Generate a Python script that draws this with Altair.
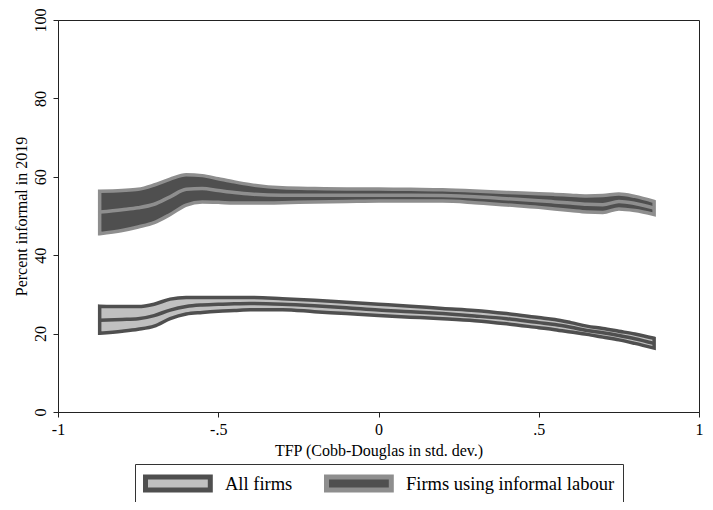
import altair as alt
import pandas as pd

# ---- data ----
x_vals = [-0.87, -0.8, -0.75, -0.7, -0.65, -0.6, -0.55, -0.5, -0.45, -0.4, -0.3, -0.2, -0.1,
          0.0, 0.1, 0.2, 0.3, 0.4, 0.5, 0.55, 0.6, 0.65, 0.7, 0.75, 0.8, 0.86]

informal_hi = [56.3, 56.5, 56.8, 57.9, 59.4, 60.5, 60.3, 59.5, 58.7, 58.0, 57.2, 57.0, 56.9,
               56.9, 56.8, 56.7, 56.4, 56.0, 55.7, 55.5, 55.3, 55.1, 55.2, 55.6, 55.0, 53.7]
informal_mid = [51.0, 51.6, 52.1, 53.0, 54.9, 56.8, 57.0, 56.5, 56.0, 55.6, 55.3, 55.3, 55.3,
                55.3, 55.3, 55.2, 54.9, 54.4, 53.9, 53.6, 53.3, 53.0, 52.9, 53.7, 53.2, 52.0]
informal_lo = [45.5, 46.3, 47.2, 48.3, 50.4, 52.8, 53.6, 53.5, 53.3, 53.3, 53.4, 53.6, 53.7,
               53.8, 53.8, 53.8, 53.4, 52.8, 52.2, 51.8, 51.4, 51.0, 50.9, 51.8, 51.4, 50.4]

all_hi = [27.0, 26.9, 26.9, 27.5, 28.8, 29.2, 29.2, 29.2, 29.2, 29.2, 28.9, 28.5, 28.0,
          27.5, 27.0, 26.4, 25.9, 25.1, 24.1, 23.6, 22.8, 21.9, 21.3, 20.6, 19.9, 18.8]
all_mid = [23.4, 23.6, 23.8, 24.6, 26.0, 26.9, 27.3, 27.5, 27.6, 27.7, 27.5, 27.1, 26.6,
           26.0, 25.6, 25.1, 24.5, 23.8, 22.8, 22.3, 21.6, 20.8, 20.2, 19.5, 18.7, 17.5]
all_lo = [20.1, 20.6, 21.1, 21.9, 23.8, 25.0, 25.4, 25.7, 25.9, 26.1, 26.1, 25.6, 25.1,
          24.6, 24.2, 23.8, 23.3, 22.5, 21.5, 21.0, 20.4, 19.8, 19.1, 18.4, 17.5, 16.3]

series_names = ["All firms", "Firms using informal labour"]
fill_colors = ["#c0c0c0", "#4f4f4f"]
stroke_colors = ["#4f4f4f", "#8e8e8e"]

x_ticks = [-1, -0.5, 0, 0.5, 1]
x_tick_labels = ["-1", "-.5", "0", ".5", "1"]
y_ticks = [0, 20, 40, 60, 80, 100]

rows = []
for name, hi, mid, lo in [(series_names[0], all_hi, all_mid, all_lo),
                          (series_names[1], informal_hi, informal_mid, informal_lo)]:
    for xv, h, m, l in zip(x_vals, hi, mid, lo):
        rows.append({"series": name, "x": xv, "hi": h, "mid": m, "lo": l})
df = pd.DataFrame(rows)

label_expr = " : ".join(
    f"datum.value == {v} ? '{t}'" for v, t in zip(x_ticks[:-1], x_tick_labels[:-1])
) + f" : '{x_tick_labels[-1]}'"

FONT = "Liberation Serif"

xscale = alt.Scale(domain=[-1, 1], nice=False, zero=False)
yscale = alt.Scale(domain=[0, 100], nice=False)

xaxis = alt.Axis(values=x_ticks, labelExpr=label_expr, title="TFP (Cobb-Douglas in std. dev.)",
                 grid=False, tickSize=5, labelPadding=4, titlePadding=5,
                 labelFontSize=16, titleFontSize=16, labelFont=FONT, titleFont=FONT,
                 labelColor="black", titleColor="black", titleFontWeight="normal",
                 domainColor="#222", tickColor="#222", labelFlush=False)
yaxis = alt.Axis(values=y_ticks, title="Percent informal in 2019", grid=False, tickSize=5,
                 labelAngle=270, labelAlign="center", labelBaseline="bottom", labelPadding=5,
                 titlePadding=3, labelFontSize=16, titleFontSize=16, labelFont=FONT,
                 titleFont=FONT, labelColor="black", titleColor="black",
                 titleFontWeight="normal", domainColor="#222", tickColor="#222")

base = alt.Chart(df)

legend = alt.Legend(
    title=None, orient="none", legendX=77, legendY=444, direction="horizontal",
    symbolType="M-1,-0.72H6.2V0.72H-1Z", symbolSize=324, symbolStrokeWidth=5,
    labelFont=FONT, labelFontSize=18.5, labelColor="black", labelOffset=59,
    labelLimit=400, columnPadding=23, padding=8, strokeColor="#333", fillColor="white",
    symbolOpacity=1
)

areas = base.mark_area(strokeWidth=3.5, opacity=1, interpolate="monotone").encode(
    x=alt.X("x:Q", scale=xscale, axis=xaxis),
    y=alt.Y("lo:Q", scale=yscale, axis=yaxis),
    y2="hi:Q",
    fill=alt.Fill("series:N", scale=alt.Scale(domain=series_names, range=fill_colors), legend=legend),
    stroke=alt.Stroke("series:N", scale=alt.Scale(domain=series_names, range=stroke_colors), legend=legend),
)

lines = []
for name, col in zip(series_names, stroke_colors):
    lines.append(
        base.transform_filter(alt.datum.series == name)
        .mark_line(strokeWidth=3.5, interpolate="monotone")
        .encode(x=alt.X("x:Q", scale=xscale), y=alt.Y("mid:Q", scale=yscale),
                stroke=alt.value(col))
    )

chart = alt.layer(areas, *lines).properties(
    width=641, height=392,
    autosize=alt.AutoSizeParams(type="none"),
    padding={"left": 50, "top": 12, "right": 6, "bottom": 90},
    background="white",
).configure_view(stroke="#222", strokeWidth=1)

chart.save("out.html", embed_options={"renderer": "svg", "actions": False})
